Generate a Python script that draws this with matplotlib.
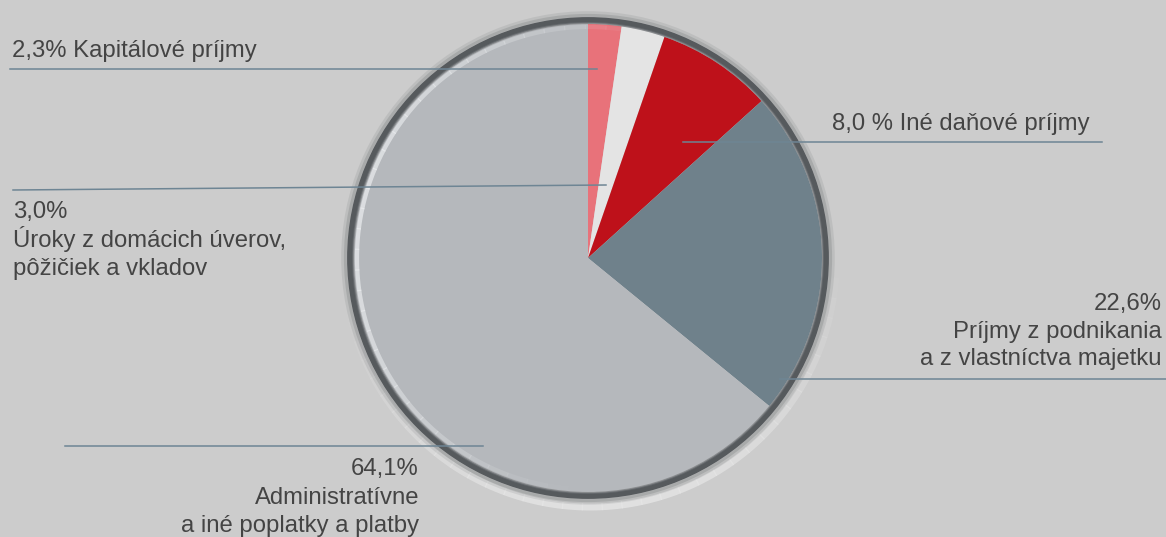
import matplotlib
matplotlib.use("Agg")
import numpy as np
import matplotlib.pyplot as plt
from matplotlib.patches import Circle, Arc

# ---- data ----
shares = [2.3, 3.0, 8.0, 22.6, 64.1]
names = ["Kapitálové príjmy",
         "Úroky z domácich úverov,\npôžičiek a vkladov",
         "Iné daňové príjmy",
         "Príjmy z podnikania\na z vlastníctva majetku",
         "Administratívne\na iné poplatky a platby"]
pct_labels = ["2,3%", "3,0%", "8,0 %", "22,6%", "64,1%"]
colors = ["#e8727a", "#e4e4e4", "#be111a", "#6f818b", "#b5b8bc"]

W, H = 1166, 537
BG = "#cccccc"
TXT = "#444444"
LINE = "#6e8594"

plt.rcParams['font.family'] = ['Liberation Sans', 'DejaVu Sans']

fig = plt.figure(figsize=(W / 100, H / 100), dpi=100, facecolor=BG)
ax = fig.add_axes([0, 0, 1, 1])
ax.set_facecolor(BG)

def Y(py):
    return H - py

cx, cy, r = 588, Y(258), 234

def fading_arc(center, radius, t1, t2, color, lw, amax, z):
    steps = np.linspace(t1, t2, 40)
    for a, b in zip(steps[:-1], steps[1:]):
        m = (a + b) / 2
        alpha = amax * np.sin(np.pi * (m - t1) / (t2 - t1)) ** 1.5
        ax.add_patch(Arc(center, 2 * radius, 2 * radius, theta1=a, theta2=b + 0.3,
                         edgecolor=color, lw=lw, alpha=alpha, zorder=z))

# soft glow outside (light, lower part)
fading_arc((cx + 2, cy - 3), r + 12, 185, 365, "#e6e6e6", 5, 0.8, 1)
# blurred shadow of ring
for dr, a, w in [(10, 0.12, 4), (8, 0.2, 3)]:
    ax.add_patch(Circle((cx, cy), r + dr, facecolor="none", edgecolor="#555a5d",
                        lw=w, alpha=a, zorder=1))

wedges, _ = ax.pie(shares, colors=colors, startangle=90, counterclock=False,
                   center=(cx, cy), radius=r, frame=True,
                   wedgeprops=dict(linewidth=0, zorder=2))

# dark ring
ax.add_patch(Circle((cx, cy), r + 4, facecolor="none", edgecolor="#565a5d",
                    lw=4.2, zorder=3))
ax.add_patch(Circle((cx, cy), r + 1, facecolor="none", edgecolor="#6a6e72",
                    lw=1.5, alpha=0.7, zorder=3))
# inner highlight (bevel)
fading_arc((cx, cy), r - 3, 70, 270, "#eceef0", 3, 0.7, 3)

# ---- leader lines ----
lw = 1.1
ax.plot([10, 597], [Y(69), Y(69)], color=LINE, lw=lw, zorder=5)
ax.plot([13, 606], [Y(190), Y(185)], color=LINE, lw=lw, zorder=5)
ax.plot([683, 1102], [Y(142), Y(142)], color=LINE, lw=lw, zorder=5)
ax.plot([780, 1166], [Y(379), Y(379)], color=LINE, lw=lw, zorder=5)
ax.plot([65, 483], [Y(446), Y(446)], color=LINE, lw=lw, zorder=5)

fs = 17.2
def txt(x, py, s, ha="left"):
    ax.text(x, Y(py), s, ha=ha, va="baseline", fontsize=fs, color=TXT, zorder=6)

# label 1
txt(12, 57, pct_labels[0] + " " + names[0])
# label 2
l2 = names[1].split("\n")
txt(13, 218, pct_labels[1])
txt(13, 247, l2[0])
txt(13, 275, l2[1])
# label 3
txt(832, 130, pct_labels[2] + " " + names[2])
# label 4
l4 = names[3].split("\n")
txt(1162, 310, pct_labels[3], ha="right")
txt(1162, 338, l4[0], ha="right")
txt(1162, 365, l4[1], ha="right")
# label 5
l5 = names[4].split("\n")
txt(419, 475, pct_labels[4], ha="right")
txt(419, 504, l5[0], ha="right")
txt(419, 532, l5[1], ha="right")

ax.set_xlim(0, W)
ax.set_ylim(0, H)
ax.set_aspect("auto")
ax.axis("off")

fig.savefig("out.png", dpi=100, facecolor=BG)
